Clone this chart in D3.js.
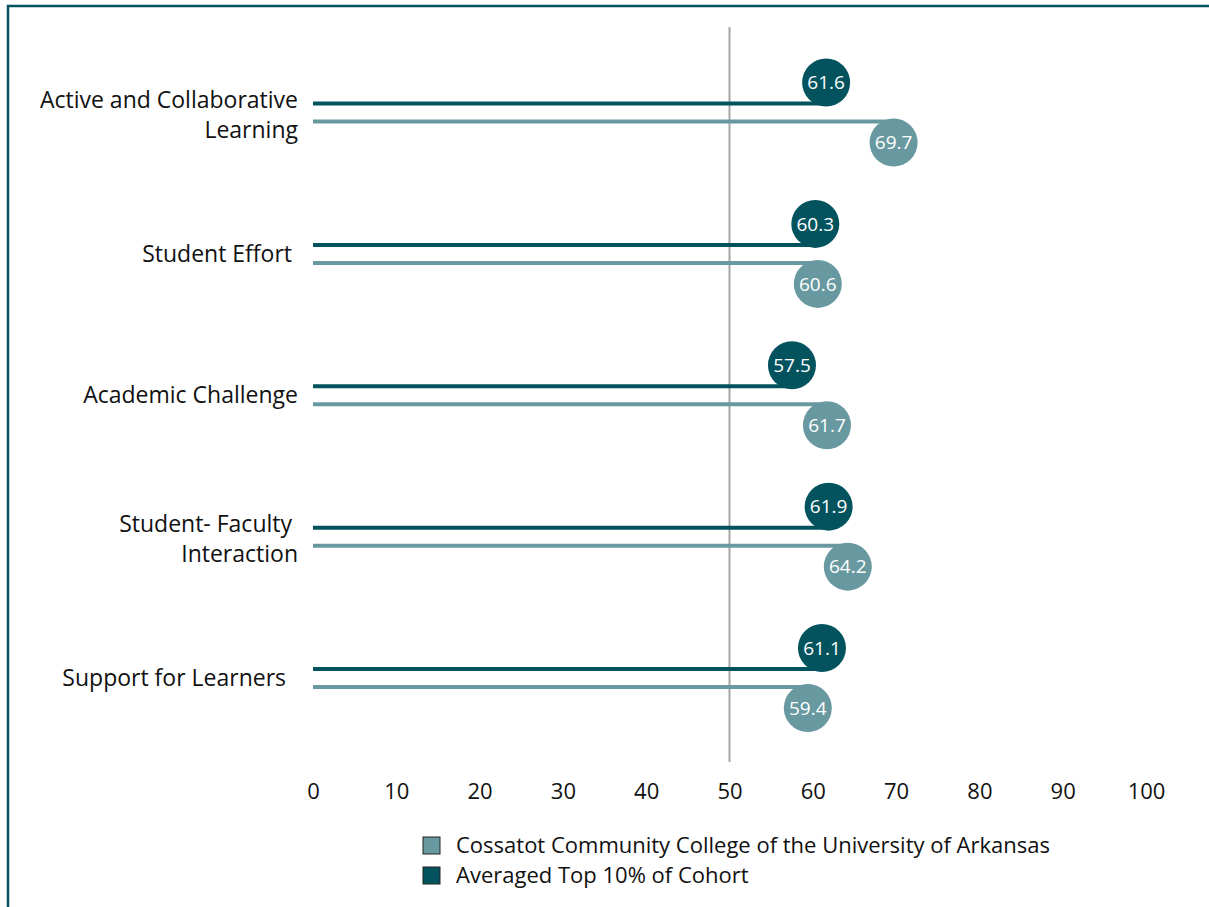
<!DOCTYPE html>
<html>
<head>
<meta charset="utf-8">
<script src="https://cdn.jsdelivr.net/npm/d3@7"></script>
<style>
  body { margin: 0; background: #fff; }
  svg text { font-family: "Open Sans", "Noto Sans", sans-serif; white-space: pre; }
</style>
</head>
<body>
<div id="chart"></div>
<script>
// chart values
var categories = ["Active and Collaborative\nLearning", "Student Effort ", "Academic Challenge", "Student- Faculty \nInteraction", "Support for Learners  "];
var topCohort = [61.6, 60.3, 57.5, 61.9, 61.1];
var college = [69.7, 60.6, 61.7, 64.2, 59.4];
var xTicks = [0, 10, 20, 30, 40, 50, 60, 70, 80, 90, 100];
var seriesNames = ["Cossatot Community College of the University of Arkansas", "Averaged Top 10% of Cohort"];
var refValue = 50;

var darkColor = "#03535f";
var lightColor = "#6899a0";

let svgWidth = 1209;
let svgHeight = 907;

let svg = d3.select("#chart")
  .append("svg")
  .attr("width", svgWidth)
  .attr("height", svgHeight);

// frame
svg.append("rect")
  .attr("x", 8).attr("y", 6)
  .attr("width", svgWidth + 10).attr("height", svgHeight + 10)
  .attr("fill", "none")
  .attr("stroke", darkColor)
  .attr("stroke-width", 2.5);

let xScale = d3.scaleLinear().domain([0, 100]).range([313, 1146]);
let yScale = d3.scalePoint().domain(categories).range([112.5, 678]);

// reference line at 50
svg.append("line")
  .attr("x1", xScale(refValue)).attr("x2", xScale(refValue))
  .attr("y1", 27).attr("y2", 762)
  .attr("stroke", "#a6a6a6")
  .attr("stroke-width", 2);

// x axis tick labels only
let xAxis = d3.axisBottom(xScale).tickValues(xTicks).tickSize(0).tickPadding(0);
let axisG = svg.append("g")
  .attr("transform", "translate(0, 783)")
  .call(xAxis);
axisG.select(".domain").remove();
axisG.selectAll("text")
  .attr("font-size", 22)
  .attr("fill", "#111")
  .attr("font-family", "'Open Sans', sans-serif");

// category labels
categories.forEach(function(c) {
  let lines = c.split("\n");
  let t = svg.append("text")
    .attr("text-anchor", "end")
    .attr("font-size", 23)
    .attr("fill", "#111");
  let yc = yScale(c);
  let y0 = lines.length == 1 ? yc + 8 : yc - 5;
  lines.forEach(function(l, i) {
    t.append("tspan").attr("x", 298).attr("y", y0 + i * 30).text(l);
  });
});

var rows = categories.map(function(c, i) {
  return {cat: c, top: topCohort[i], col: college[i]};
});

// top cohort lollipops (dark, above)
svg.selectAll(".darkLine").data(rows).enter()
  .append("line")
  .attr("x1", xScale(0))
  .attr("x2", d => xScale(d.top))
  .attr("y1", d => yScale(d.cat) - 9)
  .attr("y2", d => yScale(d.cat) - 9)
  .attr("stroke", darkColor)
  .attr("stroke-width", 4);

svg.selectAll(".lightLine").data(rows).enter()
  .append("line")
  .attr("x1", xScale(0))
  .attr("x2", d => xScale(d.col))
  .attr("y1", d => yScale(d.cat) + 9)
  .attr("y2", d => yScale(d.cat) + 9)
  .attr("stroke", lightColor)
  .attr("stroke-width", 4);

svg.selectAll(".darkDot").data(rows).enter()
  .append("circle")
  .attr("cx", d => xScale(d.top))
  .attr("cy", d => yScale(d.cat) - 30)
  .attr("r", 24)
  .attr("fill", darkColor);

svg.selectAll(".lightDot").data(rows).enter()
  .append("circle")
  .attr("cx", d => xScale(d.col))
  .attr("cy", d => yScale(d.cat) + 30)
  .attr("r", 24)
  .attr("fill", lightColor);

svg.selectAll(".darkLbl").data(rows).enter()
  .append("text")
  .attr("x", d => xScale(d.top))
  .attr("y", d => yScale(d.cat) - 30)
  .attr("dy", "0.35em")
  .attr("text-anchor", "middle")
  .attr("font-size", 19)
  .attr("fill", "#fff")
  .text(d => d.top.toFixed(1));

svg.selectAll(".lightLbl").data(rows).enter()
  .append("text")
  .attr("x", d => xScale(d.col))
  .attr("y", d => yScale(d.cat) + 30)
  .attr("dy", "0.35em")
  .attr("text-anchor", "middle")
  .attr("font-size", 19)
  .attr("fill", "#fff")
  .text(d => d.col.toFixed(1));

// legend
let legend = svg.append("g").attr("transform", "translate(423, 837)");
[lightColor, darkColor].forEach(function(col, i) {
  legend.append("rect")
    .attr("x", 0).attr("y", i * 30)
    .attr("width", 17).attr("height", 17)
    .attr("fill", col)
    .attr("stroke", "#222")
    .attr("stroke-width", 1);
  legend.append("text")
    .attr("x", 33).attr("y", i * 30 + 8.5)
    .attr("dy", "0.35em")
    .attr("font-size", 22)
    .attr("fill", "#111")
    .text(seriesNames[i]);
});
</script>
</body>
</html>
